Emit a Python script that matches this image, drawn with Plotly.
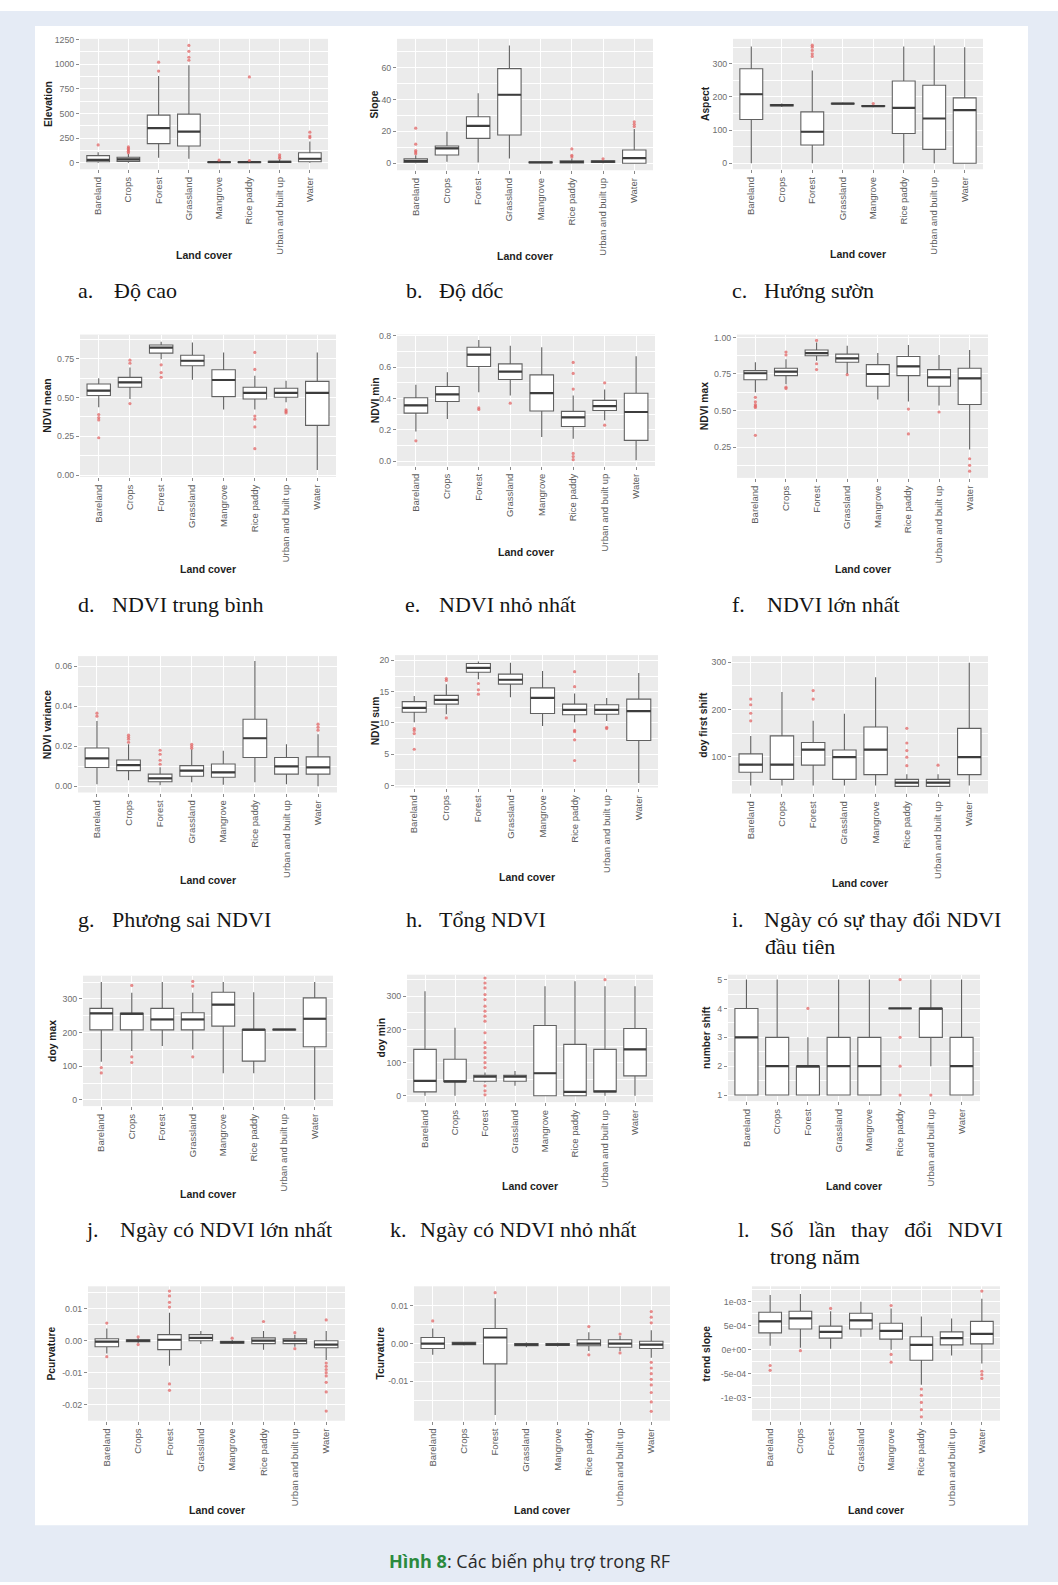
import plotly.graph_objects as go

W, H = 1058, 1585

CATEGORIES = ["Bareland", "Crops", "Forest", "Grassland", "Mangrove",
              "Rice paddy", "Urban and built up", "Water"]

# Box summaries per land cover: [lower whisker, Q1, median, Q3, upper whisker]
ELEVATION = [
    [0, 10, 28, 72, 105], [0, 13, 33, 55, 90], [50, 193, 350, 483, 880],
    [40, 170, 316, 493, 990], [0, 2, 5, 10, 20], [0, 2, 5, 8, 20],
    [0, 3, 8, 15, 35], [0, 10, 40, 100, 215],
]
ELEVATION_OUT = [[180], [100, 115, 130, 145, 160], [930, 1020], [1040, 1070, 1130, 1190],
                 [25], [22, 870], [45, 60, 80], [255, 270, 310]]

SLOPE = [
    [0, 0.5, 1.5, 2.8, 5], [1, 5.2, 9.4, 10.8, 19.8], [0.5, 15.6, 23.5, 29.2, 44],
    [3, 17.7, 43, 59.4, 74], [0, 0.3, 0.5, 0.8, 1.2], [0, 0.2, 0.8, 1.5, 3],
    [0, 0.5, 1, 1.5, 2], [0, 0, 3.2, 8.3, 21.5],
]
SLOPE_OUT = [[6, 7, 8, 12, 22], [], [], [], [], [4, 5, 9], [2.8], [23, 24.5, 26]]

ASPECT = [
    [0, 132, 208, 285, 352], [170, 173, 175, 177, 180], [0, 55, 95, 155, 280],
    [177, 179, 180, 181, 183], [169, 171, 172, 174, 176], [0, 90, 167, 248, 352],
    [0, 42, 135, 235, 355], [0, 0, 160, 197, 350],
]
ASPECT_OUT = [[], [], [322, 330, 340, 350, 356], [], [180], [], [], []]

NDVI_MEAN = [
    [0.437, 0.512, 0.544, 0.586, 0.623], [0.49, 0.565, 0.597, 0.629, 0.693],
    [0.746, 0.785, 0.821, 0.838, 0.859], [0.614, 0.704, 0.736, 0.772, 0.853],
    [0.422, 0.505, 0.612, 0.678, 0.789], [0.422, 0.49, 0.529, 0.565, 0.64],
    [0.469, 0.501, 0.529, 0.559, 0.608], [0.032, 0.32, 0.529, 0.603, 0.789],
]
NDVI_MEAN_OUT = [[0.39, 0.37, 0.355, 0.24], [0.72, 0.74, 0.46], [0.71, 0.66, 0.63], [], [],
                 [0.79, 0.68, 0.38, 0.36, 0.31, 0.17], [0.40, 0.41, 0.42], []]

NDVI_MIN = [
    [0.19, 0.307, 0.356, 0.405, 0.487], [0.27, 0.381, 0.426, 0.477, 0.568],
    [0.44, 0.604, 0.68, 0.727, 0.773], [0.419, 0.521, 0.572, 0.621, 0.737],
    [0.155, 0.32, 0.434, 0.551, 0.727], [0.144, 0.222, 0.28, 0.318, 0.419],
    [0.261, 0.324, 0.352, 0.388, 0.458], [0.006, 0.133, 0.314, 0.434, 0.669],
]
NDVI_MIN_OUT = [[0.13], [], [0.33, 0.34], [0.37], [], [0.63, 0.56, 0.46, 0.05, 0.03, 0.01],
                [0.5, 0.23], []]

NDVI_MAX = [
    [0.625, 0.711, 0.755, 0.773, 0.83], [0.68, 0.739, 0.766, 0.789, 0.85],
    [0.84, 0.875, 0.893, 0.914, 0.966], [0.75, 0.83, 0.857, 0.886, 0.943],
    [0.575, 0.666, 0.75, 0.814, 0.893], [0.561, 0.739, 0.802, 0.87, 0.948],
    [0.534, 0.666, 0.727, 0.78, 0.88], [0.234, 0.541, 0.72, 0.789, 0.914],
]
NDVI_MAX_OUT = [[0.59, 0.56, 0.54, 0.53, 0.52, 0.33], [0.88, 0.9, 0.66, 0.65], [0.98, 0.82, 0.78],
                [0.745], [], [0.51, 0.34], [0.49], [0.17, 0.125, 0.085]]

NDVI_VAR = [
    [0.001, 0.0094, 0.0139, 0.0191, 0.0326], [0.003, 0.0078, 0.0106, 0.0131, 0.021],
    [0.0005, 0.0023, 0.004, 0.0061, 0.0095], [0.002, 0.005, 0.0078, 0.0103, 0.0185],
    [0.0008, 0.0045, 0.007, 0.0111, 0.0177], [0.002, 0.0144, 0.024, 0.0335, 0.0625],
    [0.001, 0.0061, 0.0099, 0.0144, 0.021], [0.0, 0.0061, 0.0094, 0.0147, 0.026],
]
NDVI_VAR_OUT = [[0.035, 0.0365], [0.022, 0.0235, 0.0245, 0.0255], [0.011, 0.013, 0.016, 0.018],
                [0.019, 0.02, 0.021], [], [], [], [0.028, 0.0295, 0.031]]

NDVI_SUM = [
    [10.1, 11.7, 12.4, 13.4, 14.3], [11.4, 13.0, 13.7, 14.4, 16.2], [17.0, 18.1, 18.8, 19.5, 19.8],
    [14.1, 16.2, 16.9, 17.8, 19.6], [9.5, 11.5, 14.0, 15.6, 18.3], [10.1, 11.3, 12.1, 13.0, 14.7],
    [10.3, 11.4, 12.1, 12.9, 14.0], [0.4, 7.2, 11.9, 13.8, 18.0],
]
NDVI_SUM_OUT = [[9.1, 8.8, 8.3, 5.8], [16.8, 17.1, 10.8], [16.3, 15.3, 14.6], [], [],
                [18.2, 15.8, 8.8, 8.6, 7.3, 4.0], [9.3, 9.1], []]

DOY_FIRST = [
    [39, 67, 83, 106, 144], [39, 52, 83, 144, 237], [39, 82, 115, 130, 176],
    [39, 52, 99, 114, 191], [39, 62, 115, 163, 268], [37, 37, 45, 52, 63],
    [37, 37, 45, 52, 63], [39, 62, 99, 160, 299],
]
DOY_FIRST_OUT = [[222, 210, 192, 176], [], [240, 222], [], [], [160, 129, 113, 99, 81], [82], []]

DOY_MAX = [
    [113, 208, 257, 272, 350], [145, 208, 256, 257, 318], [160, 208, 239, 272, 350],
    [150, 208, 239, 259, 318], [79, 219, 283, 320, 350], [79, 115, 209, 209, 320],
    [207, 208, 209, 210, 211], [0, 158, 241, 303, 350],
]
DOY_MAX_OUT = [[96, 80], [340, 128, 111], [], [352, 338, 128], [], [], [], []]

DOY_MIN = [
    [0, 12, 45, 140, 315], [0, 43, 43, 110, 205], [40, 44, 58, 62, 70],
    [30, 44, 58, 62, 75], [0, 0, 68, 212, 330], [0, 0, 12, 155, 345],
    [0, 12, 13, 140, 330], [0, 60, 140, 203, 330],
]
DOY_MIN_OUT = [[], [], [355, 340, 325, 305, 290, 270, 255, 240, 225, 190, 160, 145, 130, 115,
                        100, 85, 30, 15, 3], [], [], [], [350], []]

NUMBER_SHIFT = [
    [1, 1, 3, 4, 5], [1, 1, 2, 3, 5], [1, 1, 2, 2, 3], [1, 1, 2, 3, 5],
    [1, 1, 2, 3, 5], [4, 4, 4, 4, 4], [2, 3, 4, 4, 5], [1, 1, 2, 3, 5],
]
NUMBER_SHIFT_OUT = [[], [], [4], [], [], [5, 3, 2, 1], [1], []]

PCURV = [
    [-0.004, -0.0019, -0.0003, 0.0006, 0.0038], [-0.0008, -0.0003, 0.0, 0.0003, 0.0008],
    [-0.0078, -0.0028, 0.0003, 0.0019, 0.0087], [-0.001, 0.0, 0.0009, 0.0019, 0.003],
    [-0.001, -0.0008, -0.0005, -0.0002, 0.0002], [-0.0028, -0.0009, 0.0, 0.0009, 0.003],
    [-0.0019, -0.0009, 0.0, 0.0006, 0.0019], [-0.006, -0.0022, -0.0012, 0.0, 0.003],
]
PCURV_OUT = [[0.0055, -0.005], [0.0012, -0.0012], [0.0155, 0.014, 0.012, 0.0105, -0.0135, -0.0155],
             [], [0.0008], [0.006], [0.0025, -0.0025],
             [0.0065, -0.007, -0.008, -0.009, -0.01, -0.011, -0.013, -0.016, -0.022]]

TCURV = [
    [-0.003, -0.0013, 0.0, 0.0016, 0.004], [-0.0005, -0.0003, 0.0, 0.0003, 0.0005],
    [-0.019, -0.0054, 0.0016, 0.004, 0.012], [-0.001, -0.0006, -0.0003, 0.0, 0.0003],
    [-0.0008, -0.0005, -0.0003, 0.0, 0.0002], [-0.002, -0.0006, 0.0, 0.001, 0.003],
    [-0.002, -0.001, 0.0, 0.001, 0.002], [-0.0038, -0.0013, -0.0003, 0.0006, 0.0035],
]
TCURV_OUT = [[0.006], [], [0.0135], [], [], [0.0045, -0.003], [0.0025, -0.0025],
             [0.0085, 0.007, 0.0055, -0.005, -0.0065, -0.008, -0.0095, -0.011, -0.013, -0.0155, -0.018]]

TREND = [
    [0.8e-4, 3.5e-4, 5.9e-4, 7.8e-4, 1.14e-3], [0.4e-4, 4.3e-4, 6.5e-4, 8.0e-4, 1.16e-3],
    [0.2e-4, 2.4e-4, 3.7e-4, 4.9e-4, 8.0e-4], [2.7e-4, 4.3e-4, 6.1e-4, 7.6e-4, 1.0e-3],
    [0.0, 2.2e-4, 3.9e-4, 5.5e-4, 8.6e-4], [-7.3e-4, -2.2e-4, 1.0e-4, 2.7e-4, 6.9e-4],
    [-1.2e-4, 1.0e-4, 2.4e-4, 3.7e-4, 6.5e-4], [-2.9e-4, 1.2e-4, 3.3e-4, 5.9e-4, 1.06e-3],
]
TREND_OUT = [[-3.3e-4, -4.3e-4], [-0.2e-4], [8.6e-4], [], [9.2e-4, -1e-4, -2.6e-4],
             [-8.2e-4, -9.5e-4, -1.1e-3, -1.25e-3, -1.4e-3], [], [1.22e-3, -4.5e-4, -5.2e-4, -6e-4]]

# y-axis ticks and their labels
ELEVATION_TICKS = [0, 250, 500, 750, 1000, 1250]
ELEVATION_LABELS = ["0", "250", "500", "750", "1000", "1250"]
SLOPE_TICKS = [0, 20, 40, 60]
SLOPE_LABELS = ["0", "20", "40", "60"]
ASPECT_TICKS = [0, 100, 200, 300]
ASPECT_LABELS = ["0", "100", "200", "300"]
NDVI_MEAN_TICKS = [0, 0.25, 0.5, 0.75]
NDVI_MEAN_LABELS = ["0.00", "0.25", "0.50", "0.75"]
NDVI_MIN_TICKS = [0, 0.2, 0.4, 0.6, 0.8]
NDVI_MIN_LABELS = ["0.0", "0.2", "0.4", "0.6", "0.8"]
NDVI_MAX_TICKS = [0.25, 0.5, 0.75, 1.0]
NDVI_MAX_LABELS = ["0.25", "0.50", "0.75", "1.00"]
NDVI_VAR_TICKS = [0, 0.02, 0.04, 0.06]
NDVI_VAR_LABELS = ["0.00", "0.02", "0.04", "0.06"]
NDVI_SUM_TICKS = [0, 5, 10, 15, 20]
NDVI_SUM_LABELS = ["0", "5", "10", "15", "20"]
DOY_FIRST_TICKS = [100, 200, 300]
DOY_FIRST_LABELS = ["100", "200", "300"]
DOY_TICKS = [0, 100, 200, 300]
DOY_LABELS = ["0", "100", "200", "300"]
NUMBER_SHIFT_TICKS = [1, 2, 3, 4, 5]
NUMBER_SHIFT_LABELS = ["1", "2", "3", "4", "5"]
PCURV_TICKS = [-0.02, -0.01, 0.0, 0.01]
PCURV_LABELS = ["-0.02", "-0.01", "0.00", "0.01"]
TCURV_TICKS = [-0.01, 0.0, 0.01]
TCURV_LABELS = ["-0.01", "0.00", "0.01"]
TREND_TICKS = [-1e-3, -5e-4, 0.0, 5e-4, 1e-3]
TREND_LABELS = ["-1e-03", "-5e-04", "0e+00", "5e-04", "1e-03"]

# panel layout: data, ticks, y range, y title, plot area (x0, x1, y0, y1 in px),
# y-title x position, "Land cover" y position
PANELS = [
    (ELEVATION, ELEVATION_OUT, ELEVATION_TICKS, ELEVATION_LABELS, [-67, 1257], "Elevation", (80, 328, 35, 166), 48, 252),
    (SLOPE, SLOPE_OUT, SLOPE_TICKS, SLOPE_LABELS, [-4.4, 78.1], "Slope", (397, 653, 35, 167), 375, 253),
    (ASPECT, ASPECT_OUT, ASPECT_TICKS, ASPECT_LABELS, [-18, 375], "Aspect", (733, 983, 35, 166), 705, 251),
    (NDVI_MEAN, NDVI_MEAN_OUT, NDVI_MEAN_TICKS, NDVI_MEAN_LABELS, [-0.012, 0.905], "NDVI mean", (80, 336, 332, 475), 48, 568),
    (NDVI_MIN, NDVI_MIN_OUT, NDVI_MIN_TICKS, NDVI_MIN_LABELS, [-0.03, 0.808], "NDVI min", (397, 655, 332, 464), 375, 550),
    (NDVI_MAX, NDVI_MAX_OUT, NDVI_MAX_TICKS, NDVI_MAX_LABELS, [0.039, 1.02], "NDVI max", (737, 988, 332, 476), 704, 568),
    (NDVI_VAR, NDVI_VAR_OUT, NDVI_VAR_TICKS, NDVI_VAR_LABELS, [-0.0031, 0.065], "NDVI variance", (78, 337, 655, 792), 47, 880),
    (NDVI_SUM, NDVI_SUM_OUT, NDVI_SUM_TICKS, NDVI_SUM_LABELS, [-0.32, 20.84], "NDVI sum", (395, 658, 654, 787), 375, 877),
    (DOY_FIRST, DOY_FIRST_OUT, DOY_FIRST_TICKS, DOY_FIRST_LABELS, [22, 313], "doy first shift", (732, 988, 655, 793), 704, 883),
    (DOY_MAX, DOY_MAX_OUT, DOY_TICKS, DOY_LABELS, [-18.6, 369], "doy max", (83, 333, 976, 1107), 53, 1195),
    (DOY_MIN, DOY_MIN_OUT, DOY_TICKS, DOY_LABELS, [-19, 365], "doy min", (407, 653, 975, 1103), 381, 1187),
    (NUMBER_SHIFT, NUMBER_SHIFT_OUT, NUMBER_SHIFT_TICKS, NUMBER_SHIFT_LABELS, [0.79, 5.17], "number shift", (728, 980, 975, 1102), 707, 1187),
    (PCURV, PCURV_OUT, PCURV_TICKS, PCURV_LABELS, [-0.025, 0.017], "Pcurvature", (88, 345, 1288, 1423), 52, 1513),
    (TCURV, TCURV_OUT, TCURV_TICKS, TCURV_LABELS, [-0.0205, 0.0152], "Tcurvature", (414, 670, 1288, 1423), 381, 1513),
    (TREND, TREND_OUT, TREND_TICKS, TREND_LABELS, [-1.48e-3, 1.32e-3], "trend slope", (752, 1000, 1288, 1423), 707, 1513),
]

# sub-figure captions: (letter, text, letter x, text x, y)
CAPTIONS = [
    ("a.", "Độ cao", 76, 112, 288),
    ("b.", "Độ dốc", 404, 437, 288),
    ("c.", "Hướng sườn", 730, 762, 288),
    ("d.", "NDVI trung bình", 76, 110, 603),
    ("e.", "NDVI nhỏ nhất", 403, 437, 603),
    ("f.", "NDVI lớn nhất", 730, 765, 603),
    ("g.", "Phương sai NDVI", 76, 110, 920),
    ("h.", "Tổng NDVI", 404, 437, 920),
    ("i.", "Ngày có sự thay đổi NDVI", 730, 762, 920),
    ("", "đầu tiên", 730, 763, 947),
    ("j.", "Ngày có NDVI lớn nhất", 84, 118, 1231),
    ("k.", "Ngày có NDVI nhỏ nhất", 388, 418, 1231),
    ("l.", "Số\u2002\u2009lần\u2002\u2009thay\u2002\u2009đổi\u2002\u2009NDVI", 736, 768, 1231),
    ("", "trong năm", 736, 768, 1258),
]

FIG_CAPTION_LABEL = "Hình 8"
FIG_CAPTION_TEXT = ": Các biến phụ trợ trong RF"

PAGE_BLUE = "#e5ebf5"
BOX_LINE = "#616161"
OUTLIER = "rgba(224,96,96,0.72)"


def fx(x):
    return x / W


def fy(y):
    return 1 - y / H


def minor_vals(ticks, yr):
    step = ticks[1] - ticks[0]
    vals = [ticks[0] - step / 2] + [t + step / 2 for t in ticks]
    return [v for v in vals if yr[0] < v < yr[1]]


fig = go.Figure()
layout = {}
annotations = []

for k, (stats, outs, ticks, labels, yr, ytitle, box, ytx, lcy) in enumerate(PANELS, start=1):
    sfx = "" if k == 1 else str(k)
    x0, x1, y0, y1 = box
    xs = list(range(1, len(CATEGORIES) + 1))

    fig.add_trace(go.Box(
        x=xs,
        lowerfence=[s[0] for s in stats], q1=[s[1] for s in stats],
        median=[s[2] for s in stats], q3=[s[3] for s in stats],
        upperfence=[s[4] for s in stats],
        xaxis="x" + sfx, yaxis="y" + sfx,
        fillcolor="white", line=dict(color=BOX_LINE, width=1.1),
        whiskerwidth=0, width=0.75, boxpoints=False,
        showlegend=False, hoverinfo="skip",
    ))

    # thicker median bars
    mx, my = [], []
    for c, s in zip(xs, stats):
        mx += [c - 0.375, c + 0.375, None]
        my += [s[2], s[2], None]
    fig.add_trace(go.Scatter(
        x=mx, y=my, mode="lines", line=dict(color="#3d3d3d", width=2.2),
        xaxis="x" + sfx, yaxis="y" + sfx, showlegend=False, hoverinfo="skip",
    ))

    ox, oy = [], []
    for c, pts in zip(xs, outs):
        ox += [c] * len(pts)
        oy += pts
    fig.add_trace(go.Scatter(
        x=ox, y=oy, mode="markers", marker=dict(color=OUTLIER, size=3.2),
        xaxis="x" + sfx, yaxis="y" + sfx, showlegend=False, hoverinfo="skip",
    ))

    layout["xaxis" + sfx] = dict(
        domain=[fx(x0), fx(x1)], anchor="y" + sfx, range=[0.4, 8.6],
        tickmode="array", tickvals=xs, ticktext=CATEGORIES, tickangle=-90,
        tickfont=dict(family="Liberation Sans, Arial", size=9.5, color="#5c5c5c"),
        ticks="outside", ticklen=3, tickcolor="#8a8a8a", tickwidth=1,
        showgrid=True, gridcolor="white", gridwidth=1.1, zeroline=False,
        showline=False, fixedrange=True,
    )
    layout["yaxis" + sfx] = dict(
        domain=[fy(y1), fy(y0)], anchor="x" + sfx, range=yr,
        tickmode="array", tickvals=ticks, ticktext=labels,
        tickfont=dict(family="Liberation Sans, Arial", size=8.8, color="#6e6e6e"),
        ticks="outside", ticklen=3, tickcolor="#8a8a8a", tickwidth=1,
        showgrid=True, gridcolor="white", gridwidth=1.1, zeroline=False,
        minor=dict(tickmode="array", tickvals=minor_vals(ticks, yr), showgrid=True,
                   gridcolor="white", gridwidth=0.5, ticks=""),
        showline=False, fixedrange=True,
    )

    annotations.append(dict(
        x=fx(ytx), y=fy((y0 + y1) / 2), xref="paper", yref="paper",
        text="<b>" + ytitle + "</b>", textangle=-90, showarrow=False,
        xanchor="center", yanchor="middle",
        font=dict(family="Liberation Sans, Arial", size=10.3, color="#1e1e1e"),
    ))
    annotations.append(dict(
        x=fx((x0 + x1) / 2), y=fy(lcy), xref="paper", yref="paper",
        text="<b>Land cover</b>", showarrow=False, xanchor="center", yanchor="middle",
        font=dict(family="Liberation Sans, Arial", size=10.5, color="#1e1e1e"),
    ))

for letter, text, lx, tx, cy in CAPTIONS:
    cap_font = dict(family="Liberation Serif, Times New Roman", size=22, color="#151515")
    if letter:
        annotations.append(dict(x=fx(lx), y=fy(cy), xref="paper", yref="paper", text=letter,
                                showarrow=False, xanchor="left", yanchor="middle", font=cap_font))
    annotations.append(dict(x=fx(tx), y=fy(cy), xref="paper", yref="paper", text=text,
                            showarrow=False, xanchor="left", yanchor="middle", font=cap_font))

annotations.append(dict(
    x=0.5, y=fy(1564), xref="paper", yref="paper", showarrow=False,
    xanchor="center", yanchor="middle",
    text="<b><span style='color:#2b8a3e'>" + FIG_CAPTION_LABEL + "</span></b>" + FIG_CAPTION_TEXT,
    font=dict(family="Open Sans, Noto Sans", size=18, color="#2a2a2a"),
))

# light-blue page frame around the white figure sheet
frame = [(0, W, 7, 22), (0, 35, 7, H), (1028, W, 7, H), (0, W, 1528, H)]
shapes = [dict(type="rect", xref="paper", yref="paper", x0=fx(a), x1=fx(b), y0=fy(d), y1=fy(c),
               fillcolor=PAGE_BLUE, line=dict(width=0), layer="below") for a, b, c, d in frame]

fig.update_layout(
    width=W, height=H, margin=dict(l=0, r=0, t=0, b=0),
    paper_bgcolor="white", plot_bgcolor="#ebebeb",
    annotations=annotations, shapes=shapes, showlegend=False,
    **layout,
)

fig.write_html("out.html")
